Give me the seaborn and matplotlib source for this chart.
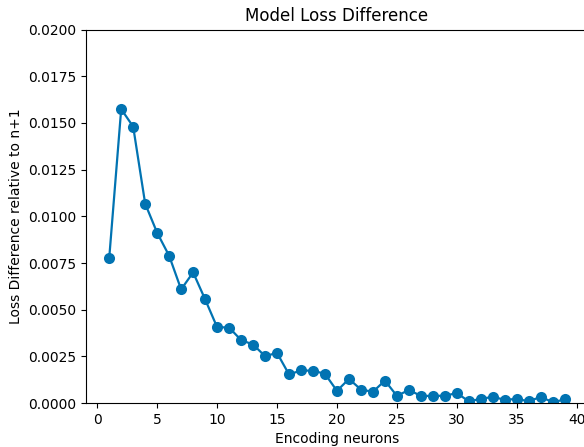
import numpy as np
import pandas as pd
import matplotlib
matplotlib.use("Agg")
import matplotlib.pyplot as plt
import seaborn as sns

# encoding neurons and loss difference vs n+1
neurons = list(range(1, 40))
loss_diff = [0.00776, 0.01574, 0.01480, 0.01068, 0.00912, 0.00789, 0.00609, 0.00700,
             0.00556, 0.00407, 0.00405, 0.00338, 0.00314, 0.00252, 0.00269, 0.00154,
             0.00175, 0.00174, 0.00157, 0.00066, 0.00130, 0.00073, 0.00061, 0.00121,
             0.00039, 0.00071, 0.00039, 0.00039, 0.00040, 0.00054, 0.00010, 0.00023,
             0.00034, 0.00018, 0.00023, 0.00010, 0.00034, 0.00005, 0.00020]

df = pd.DataFrame({"neurons": neurons, "loss": loss_diff})

sns.set_style("ticks", {"axes.edgecolor": "black", "text.color": "black",
                        "axes.labelcolor": "black", "xtick.color": "black",
                        "ytick.color": "black"})
plt.rcParams['font.family'] = ['DejaVu Sans']

fig = plt.figure(figsize=(5.84, 4.47), dpi=100)
ax = fig.add_axes([0.148, 0.098, 0.858, 0.836])

sns.lineplot(data=df, x="neurons", y="loss", marker="o", color="#0173b2",
             markersize=8, markeredgewidth=0, linewidth=1.6, ax=ax)

ax.set_ylim(0, 0.02)
ax.set_xlim(-0.9, 40.9)
ax.set_yticks(np.arange(0, 0.02001, 0.0025))
ax.set_xticks(range(0, 41, 5))
ax.set_title("Model Loss Difference", fontsize=12)
ax.set_xlabel("Encoding neurons")
ax.set_ylabel("Loss Difference relative to n+1")
# the right edge of the box falls outside the cropped image
ax.spines["right"].set_visible(False)

fig.savefig("out.png", dpi=100)
